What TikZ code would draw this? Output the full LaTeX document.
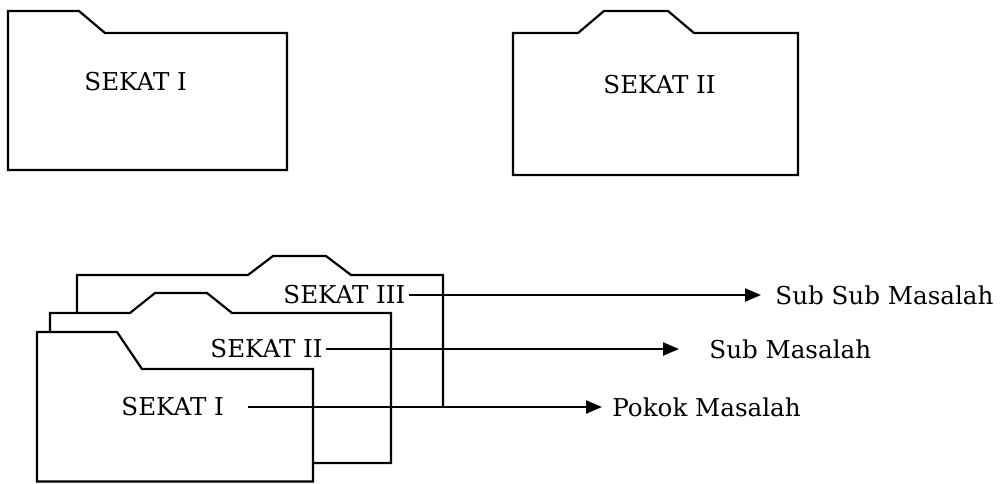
\documentclass[tikz,border=0pt]{standalone}
\usepackage{fontspec}
\setmainfont{DejaVu Serif}
\usetikzlibrary{arrows.meta}
\tikzset{>={Triangle[length=8pt,width=6.5pt]},every node/.style={font=\fontsize{12.3}{14}\selectfont,inner sep=0pt,anchor=west},folder/.style={line width=1.1pt},flow/.style={line width=1.1pt,->}}

\begin{document}
\begin{tikzpicture}[x=.5pt,y=-.5pt]
\useasboundingbox (0,0) rectangle (1001,483);
% two single folders
\draw[folder] (8,170)--(8,11)--(79,11)--(105,33)--(287,33)--(287,170)--cycle;\node (a1) at (84,82){SEKAT I};
\draw[folder] (513,175)--(513,33)--(578,33)--(604,11)--(668,11)--(694,33)--(798,33)--(798,175)--cycle;\node (a2) at (603,85){SEKAT II};
% stacked folders, back to front
\draw[folder] (77,313)--(77,275)--(248,275)--(273,256)--(326,256)--(351,275)--(443,275)--(443,407);
\draw[folder] (50,332)--(50,313)--(130,313)--(155,293)--(207,293)--(232,313)--(391,313)--(391,463)--(313,463);
\draw[folder] (37,481.5)--(37,332)--(117,332)--(142,369)--(313,369)--(313,481.5)--cycle;
\node (s3) at (283,295){SEKAT III};\node (s2) at (210,349){SEKAT II};\node (s1) at (121,407){SEKAT I};
\node (m3) at (775,295){Sub Sub Masalah};\node (m2) at (709,349){Sub Masalah};\node (m1) at (612,407){Pokok Masalah};
\draw[flow] ([xshift=1.5pt]s3.east)--([xshift=-7pt]m3.west);
\draw[flow] ([xshift=1.5pt]s2.east)--([xshift=-15pt]m2.west);
\draw[flow] ([xshift=12pt]s1.east)--([xshift=-5pt]m1.west);
\end{tikzpicture}
\end{document}
